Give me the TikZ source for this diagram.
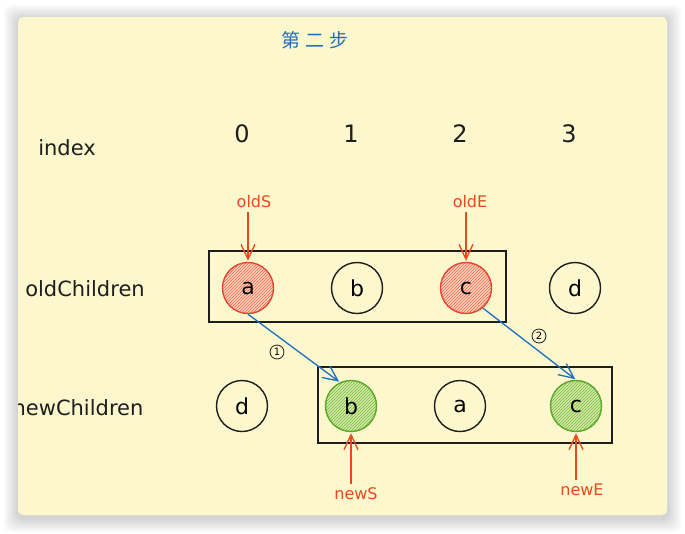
\documentclass[tikz,border=0pt]{standalone}
\usepackage{fontspec}
\setmainfont{DejaVu Sans}
\newfontfamily\cjkfont{Noto Sans CJK SC}
\usetikzlibrary{positioning}
\usetikzlibrary{arrows.meta}
\usetikzlibrary{patterns}

\begin{document}
\begin{tikzpicture}[x=1pt,y=-1pt,>={Straight Barb[length=15pt,width=14pt]},shorten >=1pt,node distance=109pt,
	thick,main node/.style={circle,draw=ink,minimum size=51pt,inner sep=0pt,line width=1.4pt,font=\fontsize{22}{26}\selectfont},
	old mark/.style={draw=oldline,preaction={fill=oldfill},pattern=north east lines,pattern color=oldhatch},
	new mark/.style={draw=newline,preaction={fill=newfill},pattern=north east lines,pattern color=newhatch},
	row label/.style={text=ink,font=\fontsize{21}{25}\selectfont},
	index label/.style={text=ink,font=\fontsize{24}{28}\selectfont},
	pointer/.style={text=ptrred,font=\fontsize{16}{19}\selectfont},
	step mark/.style={circle,draw=ink,line width=.8pt,inner sep=0pt,minimum size=14pt,font=\fontsize{10}{11}\selectfont},
	box/.style={draw=ink,line width=1.6pt}]
	
	\definecolor{card}{RGB}{253,247,206}
	\definecolor{ink}{RGB}{30,30,30}
	\definecolor{ptrred}{RGB}{236,72,28}
	\definecolor{titleblue}{RGB}{31,111,190}
	\definecolor{moveblue}{RGB}{25,113,194}
	\definecolor{oldline}{RGB}{232,68,50}
	\definecolor{oldfill}{RGB}{251,212,185}
	\definecolor{oldhatch}{RGB}{238,100,80}
	\definecolor{newline}{RGB}{92,168,40}
	\definecolor{newfill}{RGB}{214,234,165}
	\definecolor{newhatch}{RGB}{115,185,65}
	
	% card and its shadow
	\useasboundingbox (0,0) rectangle (685,533);
	\fill[white] (0,0) rectangle (685,533);
	\foreach \d in {14,12,...,2}
		\fill[black,opacity=.025,rounded corners=8pt] (18-\d,19-\d) rectangle (667+\d,518+\d);
	\fill[card,rounded corners=5pt] (18,17) rectangle (667,515);
	
	\begin{scope}
	\clip[rounded corners=5pt] (18,17) rectangle (667,515);
	
	\node[text=titleblue,font=\cjkfont\fontsize{19}{23}\selectfont] (title) at (315,40) {第\hspace{5pt}二\hspace{5pt}步};
	
	% index row
	\node[row label] (index) at (67,148) {index};
	\node[index label] (i0) at (242,134) {0};
	\node[index label] (i1) [right of=i0] {1};
	\node[index label] (i2) [right of=i1] {2};
	\node[index label] (i3) [right of=i2] {3};
	
	% old children
	\node[row label] (old) at (85,289) {oldChildren};
	\draw[box] (209,251) rectangle (506,322);
	\node[main node, old mark] (oa) at (248,288) {a};
	\node[main node] (ob) [right of=oa] {b};
	\node[main node, old mark] (oc) [right of=ob] {c};
	\node[main node] (od) [right of=oc] {d};
	
	% new children
	\node[row label] (new) at (78,408) {newChildren};
	\draw[box] (318,367) rectangle (612,443);
	\node[main node] (nd) at (242,406) {d};
	\node[main node, new mark] (nb) [right of=nd] {b};
	\node[main node] (na) [right of=nb] {a};
	\node[main node, new mark] (nc) [right of=na, xshift=7pt] {c};
	
	% pointers
	\node[pointer] (oldS) at (254,202) {oldS};
	\node[pointer] (oldE) at (470,202) {oldE};
	\node[pointer] (newS) at (356,494) {newS};
	\node[pointer] (newE) at (582,490) {newE};
	\draw[->,ptrred,line width=1.3pt] (oldS.south -| oa) -- (oa);
	\draw[->,ptrred,line width=1.3pt] (oldE.south -| oc) -- (oc);
	\draw[->,ptrred,line width=1.3pt] (newS.north -| nb) -- (nb);
	\draw[->,ptrred,line width=1.3pt] (newE.north -| nc) -- (nc);
	
	% moves
	\draw[->,moveblue,line width=1.3pt] (oa.south) -- (nb.115);
	\draw[->,moveblue,line width=1.3pt] (oc.-50) -- (nc.north);
	\node[step mark] (s1) at (277,352) {1};
	\node[step mark] (s2) at (539,336) {2};
	\end{scope}
\end{tikzpicture}
\end{document}
